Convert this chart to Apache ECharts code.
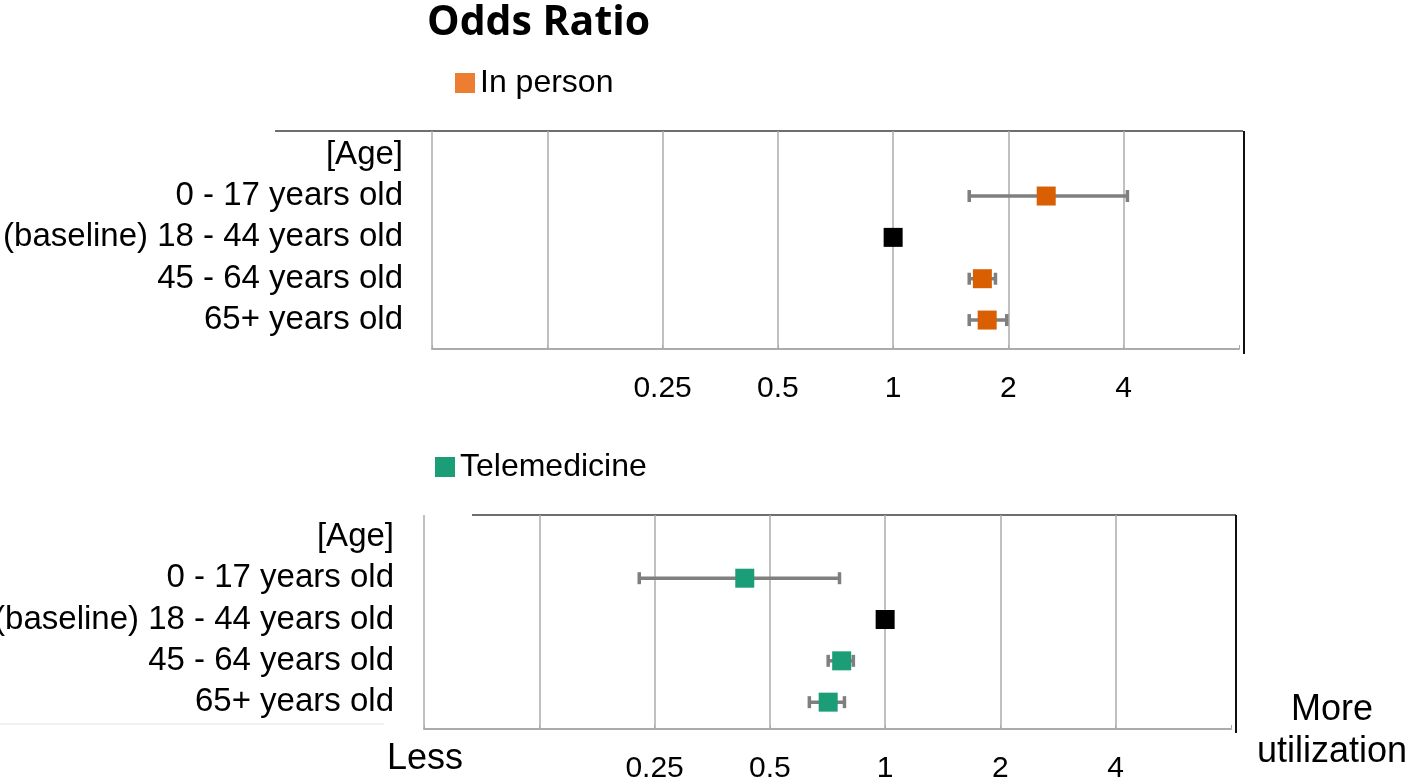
<!DOCTYPE html>
<html>
<head>
<meta charset="utf-8">
<title>Odds Ratio</title>
<script src="https://cdn.jsdelivr.net/npm/echarts@6/dist/echarts.min.js"></script>
<style>
  html, body { margin: 0; padding: 0; background: #ffffff; }
  #chart { width: 1412px; height: 784px; }
</style>
</head>
<body>
<div id="chart"></div>
<script>
// Row labels shared by both panels (top to bottom)
const categories = ['[Age]', '0 - 17 years old', '(baseline) 18 - 44 years old', '45 - 64 years old', '65+ years old'];
const baselineRow = 2;
const baselineOR = 1;

// In-person visits: odds ratio with 95% CI per row (null = no estimate)
const inPersonOR   = [null, 2.51, null, 1.71, 1.76];
const inPersonLow  = [null, 1.58, null, 1.58, 1.58];
const inPersonHigh = [null, 4.09, null, 1.85, 1.98];

// Telemedicine visits
const teleOR   = [null, 0.43, null, 0.77, 0.71];
const teleLow  = [null, 0.228, null, 0.71, 0.634];
const teleHigh = [null, 0.76, null, 0.826, 0.783];

// Log2 axis range and the tick labels that are printed
const xMin = 0.0625;
const xMax = 8;
const xTickLabels = ['0.25', '0.5', '1', '2', '4'];

const FONT = "'Liberation Sans', Arial, sans-serif";
const ORANGE = '#D95F02';
const ORANGE_KEY = '#ED7D31';
const TEAL = '#1B9E77';
const BAR_GREY = '#7F7F7F';
const GRID_GREY = '#ABABAB';

function pointData(values) {
  const out = [];
  values.forEach((v, i) => { if (v != null) out.push([v, i]); });
  return out;
}
function ciData(low, high) {
  const out = [];
  low.forEach((l, i) => { if (l != null && high[i] != null) out.push([i, l, high[i]]); });
  return out;
}
function errorBar(params, api) {
  const row = api.value(0);
  const a = api.coord([api.value(1), row]);
  const b = api.coord([api.value(2), row]);
  const cap = 6;
  const style = { stroke: BAR_GREY, lineWidth: 3.5 };
  return {
    type: 'group',
    children: [
      { type: 'line', shape: { x1: a[0], y1: a[1], x2: b[0], y2: b[1] }, style },
      { type: 'line', shape: { x1: a[0], y1: a[1] - cap, x2: a[0], y2: a[1] + cap }, style },
      { type: 'line', shape: { x1: b[0], y1: b[1] - cap, x2: b[0], y2: b[1] + cap }, style }
    ]
  };
}
function xTickText(v) {
  const e = Math.round(Math.log2(v));
  const s = String(Math.pow(2, e));
  return xTickLabels.indexOf(s) >= 0 ? s : '';
}

function xAxisFor(gridIndex) {
  return {
    type: 'log', logBase: 2, gridIndex,
    min: xMin, max: xMax, interval: 1,
    axisLine: { show: true, onZero: false, lineStyle: { color: GRID_GREY, width: 2 } },
    axisTick: { show: true, inside: true, length: 4, lineStyle: { color: GRID_GREY } },
    splitLine: { show: true, showMaxLine: false, lineStyle: { color: GRID_GREY, width: 1.5 } },
    axisLabel: { formatter: xTickText, margin: 25, fontSize: 30, color: '#000', fontFamily: FONT }
  };
}
function yAxisFor(gridIndex, min, max, margin) {
  return {
    type: 'value', gridIndex, inverse: true, min, max,
    axisLine: { show: false }, axisTick: { show: false }, splitLine: { show: false },
    axisLabel: {
      customValues: [0, 1, 2, 3, 4],
      formatter: v => categories[Math.round(v)] || '',
      margin, fontSize: 33, color: '#000', fontFamily: FONT
    }
  };
}
function markerSeries(name, axisIndex, data, color) {
  return {
    type: 'scatter', name, xAxisIndex: axisIndex, yAxisIndex: axisIndex,
    symbol: 'rect', symbolSize: 19, itemStyle: { color, opacity: 1 },
    emphasis: { disabled: true }, data, z: 3
  };
}

const chart = echarts.init(document.getElementById('chart'), null, { renderer: 'canvas' });

chart.setOption({
  animation: false,
  backgroundColor: '#ffffff',
  grid: [
    { left: 432, top: 131, width: 807, height: 218, outerBoundsMode: 'none', containLabel: false },
    { left: 424, top: 515, width: 807, height: 214, outerBoundsMode: 'none', containLabel: false }
  ],
  xAxis: [xAxisFor(0), xAxisFor(1)],
  yAxis: [yAxisFor(0, -0.573, 4.70, 29), yAxisFor(1, -0.53, 4.65, 30)],
  legend: [
    {
      data: [{ name: 'In person', itemStyle: { color: ORANGE_KEY, opacity: 1 } }],
      left: 450, top: 62, icon: 'rect', itemWidth: 20, itemHeight: 20,
      textStyle: { fontSize: 32, color: '#000', fontFamily: FONT }
    },
    {
      data: [{ name: 'Telemedicine', itemStyle: { color: TEAL, opacity: 1 } }],
      left: 430, top: 446, icon: 'rect', itemWidth: 20, itemHeight: 20,
      textStyle: { fontSize: 32, color: '#000', fontFamily: FONT }
    }
  ],
  graphic: [
    { type: 'text', left: 427, top: 3, style: { text: 'Odds Ratio', font: "bold 41px 'Open Sans', sans-serif", fill: '#000' } },
    // panel frames
    { type: 'line', shape: { x1: 275, y1: 131, x2: 1243, y2: 131 }, style: { stroke: '#6E6E6E', lineWidth: 2 } },
    { type: 'line', shape: { x1: 1244, y1: 131, x2: 1244, y2: 354 }, style: { stroke: '#111', lineWidth: 2 } },
    { type: 'line', shape: { x1: 472, y1: 515, x2: 1236, y2: 515 }, style: { stroke: '#6E6E6E', lineWidth: 2 } },
    { type: 'line', shape: { x1: 1236, y1: 515, x2: 1236, y2: 733 }, style: { stroke: '#111', lineWidth: 2 } },
    { type: 'line', shape: { x1: 0, y1: 724, x2: 384, y2: 724 }, style: { stroke: '#E6E6E6', lineWidth: 1 } },
    // direction notes
    { type: 'text', left: 387, top: 741, style: { text: 'Less', font: "36px " + FONT, fill: '#000' } },
    { type: 'text', x: 1332, y: 689, style: { text: 'More\nutilization', font: "36px " + FONT, fill: '#000', align: 'center', lineHeight: 42 } }
  ],
  series: [
    { type: 'custom', name: 'In person CI', xAxisIndex: 0, yAxisIndex: 0, renderItem: errorBar,
      encode: { x: [1, 2], y: 0 }, data: ciData(inPersonLow, inPersonHigh), z: 1 },
    markerSeries('In person', 0, pointData(inPersonOR), ORANGE),
    markerSeries('Baseline', 0, [[baselineOR, baselineRow]], '#000'),

    { type: 'custom', name: 'Telemedicine CI', xAxisIndex: 1, yAxisIndex: 1, renderItem: errorBar,
      encode: { x: [1, 2], y: 0 }, data: ciData(teleLow, teleHigh), z: 1 },
    markerSeries('Telemedicine', 1, pointData(teleOR), TEAL),
    markerSeries('Baseline ', 1, [[baselineOR, baselineRow]], '#000')
  ]
});
</script>
</body>
</html>
